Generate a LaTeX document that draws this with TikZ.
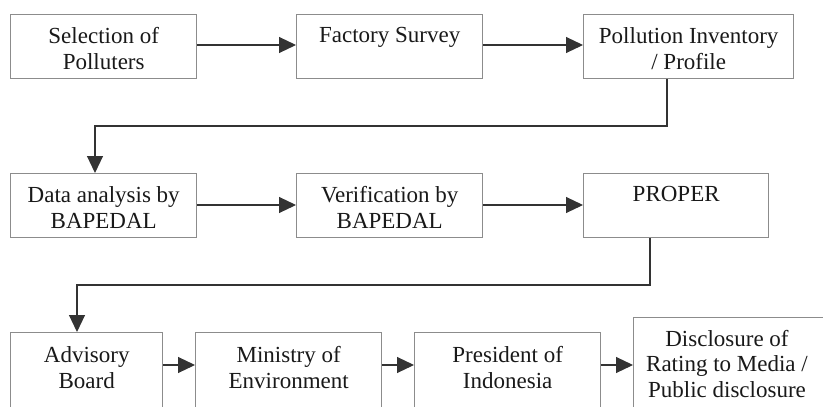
\documentclass[tikz,border=0pt]{standalone}
\usepackage{fontspec}
\setmainfont{Liberation Serif}
\usetikzlibrary{arrows.meta,calc}
\begin{document}
\begin{tikzpicture}[x=1pt,y=-1pt,
  boxb/.style={draw=black!45,line width=1.4pt,fill=white,anchor=north west,inner sep=0pt},
  lbl/.style={anchor=north,align=center,inner sep=0pt,text=black!90,
    font=\fontsize{23}{25.5}\selectfont},
  conn/.style={draw=black!80,line width=1.1pt,-{Triangle[length=17pt,width=16pt]}}]
\clip (0,0) rectangle (823,407);
\fill[white] (0,0) rectangle (823,407);
% row 1
\node[boxb,minimum width=186pt,minimum height=64pt] (b1) at (10,14) {};
\node[boxb,minimum width=186pt,minimum height=64pt] (b2) at (296,14) {};
\node[boxb,minimum width=210pt,minimum height=64pt] (b3) at (583,14) {};
% row 2
\node[boxb,minimum width=186pt,minimum height=64pt] (b4) at (10,173) {};
\node[boxb,minimum width=186pt,minimum height=64pt] (b5) at (296,173) {};
\node[boxb,minimum width=185pt,minimum height=64pt] (b6) at (583,173) {};
% row 3
\node[boxb,minimum width=152pt,minimum height=100pt] (b7) at (10,332) {};
\node[boxb,minimum width=186pt,minimum height=100pt] (b8) at (195,332) {};
\node[boxb,minimum width=186pt,minimum height=100pt] (b9) at (414,332) {};
\node[boxb,minimum width=220pt,minimum height=120pt] (b10) at (633,317) {};
% labels
\node[lbl] (t1) at ($(b1.north)+(0,13.5)$) {Selection of\\Polluters};
\node[lbl] (t2) at ($(b2.north)+(0,13.5)$) {Factory Survey};
\node[lbl] (t3) at ($(b3.north)+(0,13.5)$) {Pollution Inventory\\/ Profile};
\node[lbl] (t4) at ($(b4.north)+(0,13.5)$) {Data analysis by\\BAPEDAL};
\node[lbl] (t5) at ($(b5.north)+(0,13.5)$) {Verification by\\BAPEDAL};
\node[lbl] (t6) at ($(b6.north)+(0,13.5)$) {PROPER};
\node[lbl] (t7) at ($(b7.north)+(0,14.5)$) {Advisory\\Board};
\node[lbl] (t8) at ($(b8.north)+(0,14.5)$) {Ministry of\\Environment};
\node[lbl] (t9) at ($(b9.north)+(0,14.5)$) {President of\\Indonesia};
\node[lbl] (t10) at (727,330) {Disclosure of\\Rating to Media /\\Public disclosure};
% connectors
\coordinate (c1) at (667,126);
\coordinate (c2) at (95,126);
\coordinate (c3) at (650,285);
\coordinate (c4) at (77,285);
\draw[conn] (b1.east |- 0,45) -- (b2.west |- 0,45);
\draw[conn] (b2.east |- 0,45) -- (b3.west |- 0,45);
\draw[conn] (b3.south -| c1) -- (c1) -- (c2) -- (b4.north -| c2);
\draw[conn] (b4.east |- 0,205) -- (b5.west |- 0,205);
\draw[conn] (b5.east |- 0,205) -- (b6.west |- 0,205);
\draw[conn] (b6.south -| c3) -- (c3) -- (c4) -- (b7.north -| c4);
\draw[conn] (b7.east |- 0,365) -- (b8.west |- 0,365);
\draw[conn] (b8.east |- 0,365) -- (b9.west |- 0,365);
\draw[conn] (b9.east |- 0,365) -- (b10.west |- 0,365);
\end{tikzpicture}
\end{document}
